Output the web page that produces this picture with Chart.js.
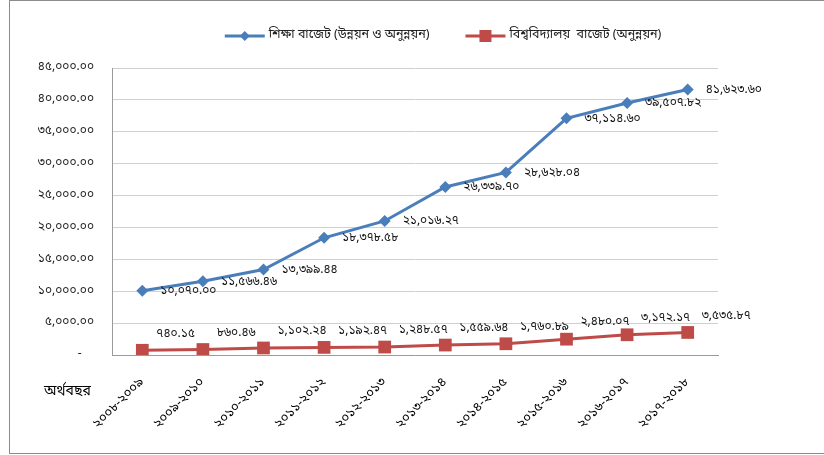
<!DOCTYPE html>
<html>
<head>
<meta charset="utf-8">
<script src="https://cdn.jsdelivr.net/npm/chart.js@4/dist/chart.umd.min.js"></script>
<style>
  html, body { margin: 0; padding: 0; background: #fff; }
  #wrap { position: relative; width: 824px; height: 455px; overflow: hidden; }
  #frame { position: absolute; left: 9px; top: 0; width: 900px; height: 454px; border: 1px solid #8c8c8c; box-sizing: border-box; }
  #chart { position: absolute; left: 0; top: 0; }
</style>
</head>
<body>
<div id="wrap">
  <div id="frame"></div>
  <canvas id="chart" width="824" height="455"></canvas>
</div>
<script>
const years = ['২০০৮-২০০৯', '২০০৯-২০১০', '২০১০-২০১১', '২০১১-২০১২', '২০১২-২০১৩',
               '২০১৩-২০১৪', '২০১৪-২০১৫', '২০১৫-২০১৬', '২০১৬-২০১৭', '২০১৭-২০১৮'];
const educationBudget = [10070.00, 11566.46, 13399.44, 18378.58, 21016.27,
                         26339.70, 28628.04, 37114.60, 39507.82, 41623.60];
const universityBudget = [740.15, 860.46, 1102.24, 1192.47, 1248.57,
                          1559.64, 1760.89, 2480.07, 3172.17, 3535.87];
const seriesNames = ['শিক্ষা বাজেট (উন্নয়ন ও অনুন্নয়ন)', 'বিশ্ববিদ্যালয়  বাজেট (অনুন্নয়ন)'];
const axisTitle = 'অর্থবছর';

const BLUE = '#4a7ebb';
const RED = '#be4b48';
const FONT = "'Noto Sans Bengali', 'Noto Sans', 'DejaVu Sans', sans-serif";

const bnDigits = ['০', '১', '২', '৩', '৪', '৫', '৬', '৭', '৮', '৯'];
function toBn(str) {
    return String(str).replace(/[0-9]/g, d => bnDigits[+d]);
}
function fmt(v) {
    return toBn(v.toLocaleString('en-US', { minimumFractionDigits: 2, maximumFractionDigits: 2 }));
}

function drawMarker(ctx, style, x, y, r, color) {
    ctx.save();
    ctx.fillStyle = color;
    ctx.beginPath();
    if (style === 'rectRot') {
        ctx.moveTo(x - r, y);
        ctx.lineTo(x, y - r);
        ctx.lineTo(x + r, y);
        ctx.lineTo(x, y + r);
        ctx.closePath();
    } else {
        ctx.rect(x - r, y - r, 2 * r, 2 * r);
    }
    ctx.fill();
    ctx.restore();
}

// legend drawn at top, line + marker like the original
const topLegend = {
    id: 'topLegend',
    afterDraw(chart) {
        const ctx = chart.ctx;
        const area = chart.chartArea;
        ctx.save();
        ctx.font = '12.5px ' + FONT;
        ctx.textBaseline = 'middle';
        const lineLen = 40, gapText = 4, gapItem = 36;
        const items = chart.data.datasets.map(ds => ({
            ds, w: lineLen + gapText + ctx.measureText(ds.label).width
        }));
        const total = items.reduce((s, it) => s + it.w, 0) + gapItem;
        let x = (area.left + area.right) / 2 + 28 - total / 2;
        const y = 36;
        items.forEach(it => {
            ctx.strokeStyle = it.ds.borderColor;
            ctx.lineWidth = 3;
            ctx.beginPath();
            ctx.moveTo(x, y);
            ctx.lineTo(x + lineLen, y);
            ctx.stroke();
            if (it.ds.pointStyle === 'rectRot') {
                drawMarker(ctx, 'rectRot', x + lineLen / 2, y, 5, it.ds.borderColor);
            } else {
                drawMarker(ctx, 'rect', x + lineLen / 2, y, 6, it.ds.borderColor);
            }
            ctx.fillStyle = '#222';
            ctx.fillText(it.ds.label, x + lineLen + gapText, y);
            x += it.w + gapItem;
        });
        ctx.restore();
    }
};

// value labels next to points, and the axis title
const valueLabels = {
    id: 'valueLabels',
    afterDatasetsDraw(chart) {
        const ctx = chart.ctx;
        ctx.save();
        ctx.font = '12px ' + FONT;
        ctx.fillStyle = '#111';
        ctx.textAlign = 'left';
        ctx.textBaseline = 'middle';
        chart.data.datasets.forEach((ds, i) => {
            const meta = chart.getDatasetMeta(i);
            meta.data.forEach((pt, j) => {
                const dx = i === 0 ? 18 : 14;
                const dy = i === 0 ? 1 : -16;
                ctx.fillText(fmt(ds.data[j]), pt.x + dx, pt.y + dy);
            });
        });
        ctx.font = '14px ' + FONT;
        ctx.fillStyle = '#000';
        ctx.fillText(axisTitle, chart.chartArea.left - 68, chart.chartArea.bottom + 37);
        ctx.restore();
    }
};

new Chart(document.getElementById('chart').getContext('2d'), {
    type: 'line',
    data: {
        labels: years,
        datasets: [{
            label: seriesNames[0],
            data: educationBudget,
            borderColor: BLUE,
            backgroundColor: BLUE,
            borderWidth: 3,
            pointStyle: 'rectRot',
            pointRadius: 6,
            pointBorderWidth: 0,
            tension: 0
        }, {
            label: seriesNames[1],
            data: universityBudget,
            borderColor: RED,
            backgroundColor: RED,
            borderWidth: 3,
            pointStyle: 'rect',
            pointRadius: 9,
            pointBorderWidth: 0,
            tension: 0
        }]
    },
    options: {
        responsive: false,
        animation: false,
        layout: { padding: { left: 9, top: 68, right: 106, bottom: 0 } },
        plugins: {
            legend: { display: false },
            tooltip: { enabled: false }
        },
        scales: {
            x: {
                offset: true,
                grid: { display: false },
                border: { color: '#9a9a9a', width: 1 },
                ticks: {
                    color: '#000',
                    font: { family: FONT, size: 13 },
                    maxRotation: 45,
                    minRotation: 45,
                    padding: 12,
                    autoSkip: false
                },
                afterFit(s) { s.height = 100; }
            },
            y: {
                min: 0,
                max: 45000,
                grid: { color: '#d0d0d0', drawTicks: false },
                border: { color: '#9a9a9a', width: 1 },
                ticks: {
                    stepSize: 5000,
                    color: '#222',
                    padding: 18,
                    font: { family: FONT, size: 12 },
                    callback: v => v === 0 ? '-    ' : fmt(v)
                },
                afterFit(s) { s.width = 103; }
            }
        }
    },
    plugins: [topLegend, valueLabels]
});
</script>
</body>
</html>
